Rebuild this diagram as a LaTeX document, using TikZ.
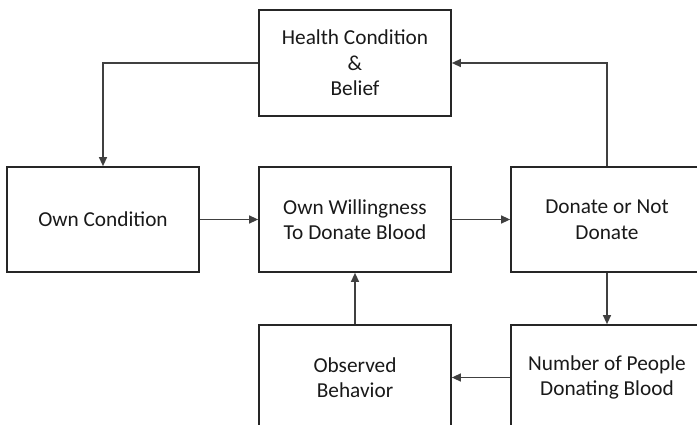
\documentclass[tikz,border=0pt]{standalone}
\usepackage{fontspec}
\setmainfont{Carlito}
\usetikzlibrary{arrows.meta}
\begin{document}
\begin{tikzpicture}[x=1pt,y=-1pt,
  box/.style={draw=black!85,line width=1.7pt,minimum width=192pt,minimum height=105pt,inner sep=0pt,align=center,font=\fontsize{21.3}{25.5}\selectfont,text=black!90},
  conn/.style={draw=black!75,line width=1.2pt,-{Triangle[length=9pt,width=8pt]}}]
\useasboundingbox (0,0) rectangle (697,425);
\clip (0,0) rectangle (697,425);
\node[box,minimum height=106pt] (H) at (355,63) {Health Condition\\\&\\Belief};
\node[box] (OC) at (103,219.5) {Own Condition};
\node[box] (W) at (355,219.5) {Own Willingness\\To Donate Blood};
\node[box] (D) at (607,219.5) {Donate or Not\\Donate};
\node[box] (OB) at (355,377.5) {Observed\\Behavior};
\node[box] (N) at (607,377.5) {Number of People\\Donating Blood};
\draw[conn] (H.west) -| (OC.north);
\draw[conn] (OC.east) -- (W.west);
\draw[conn] (W.east) -- (D.west);
\draw[conn] (D.north) |- (H.east);
\draw[conn] (D.south) -- (N.north);
\draw[conn] (N.west) -- (OB.east);
\draw[conn] (OB.north) -- (W.south);
\end{tikzpicture}
\end{document}
